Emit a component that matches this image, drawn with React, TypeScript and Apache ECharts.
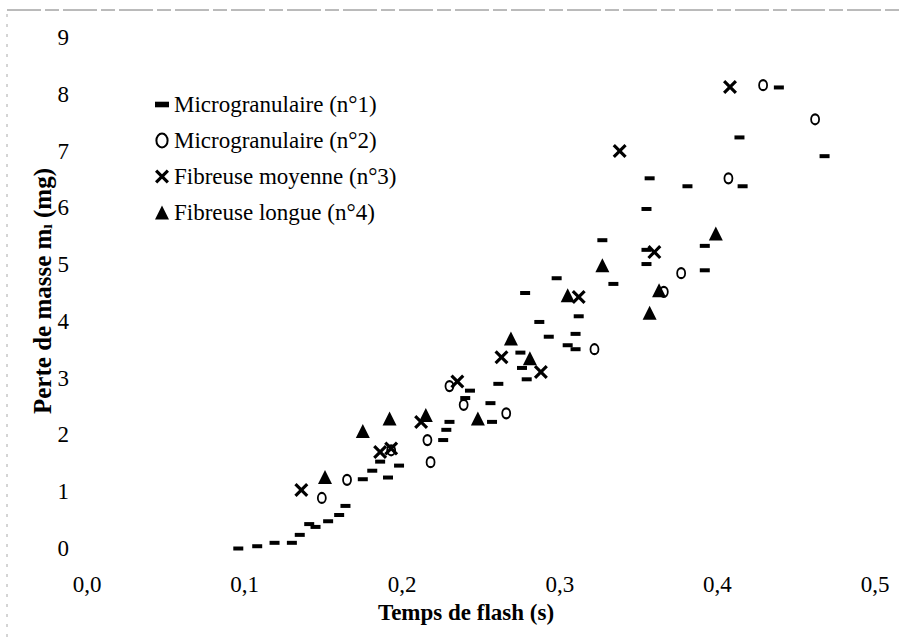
import React, { useEffect, useRef } from "react";
import * as echarts from "echarts";

const seriesNames = [
  "Microgranulaire (n°1)",
  "Microgranulaire (n°2)",
  "Fibreuse moyenne (n°3)",
  "Fibreuse longue (n°4)",
];

const micro1: [number, number][] = [
  [0.096, 0.0], [0.108, 0.04], [0.119, 0.1], [0.13, 0.1], [0.135, 0.24],
  [0.141, 0.43], [0.145, 0.38], [0.153, 0.48], [0.16, 0.59], [0.164, 0.75],
  [0.175, 1.22], [0.181, 1.37], [0.186, 1.53], [0.191, 1.25], [0.198, 1.46],
  [0.226, 1.91], [0.228, 2.09], [0.23, 2.23], [0.24, 2.65], [0.243, 2.78],
  [0.256, 2.56], [0.257, 2.23], [0.261, 2.9], [0.275, 3.45], [0.276, 3.18],
  [0.279, 2.98], [0.278, 4.5], [0.287, 3.99], [0.293, 3.73], [0.298, 4.76],
  [0.305, 3.58], [0.31, 3.78], [0.31, 3.51], [0.312, 4.09], [0.327, 5.43],
  [0.334, 4.66], [0.355, 5.98], [0.355, 5.26], [0.355, 5.01], [0.357, 6.52],
  [0.381, 6.38], [0.392, 5.33], [0.392, 4.9], [0.414, 7.24], [0.416, 6.38],
  [0.439, 8.12], [0.468, 6.91],
];

const micro2: [number, number][] = [
  [0.149, 0.89], [0.165, 1.21], [0.193, 1.73], [0.218, 1.52], [0.216, 1.91],
  [0.23, 2.86], [0.239, 2.53], [0.266, 2.38], [0.322, 3.51], [0.377, 4.85],
  [0.366, 4.52], [0.407, 6.52], [0.429, 8.16], [0.462, 7.56],
];

const fibMoy: [number, number][] = [
  [0.136, 1.03], [0.186, 1.7], [0.193, 1.76], [0.212, 2.23], [0.235, 2.94],
  [0.263, 3.37], [0.288, 3.11], [0.312, 4.43], [0.338, 7.0], [0.36, 5.22],
  [0.408, 8.13],
];

const fibLong: [number, number][] = [
  [0.151, 1.26], [0.175, 2.07], [0.192, 2.29], [0.215, 2.35], [0.248, 2.29],
  [0.269, 3.7], [0.281, 3.35], [0.305, 4.46], [0.327, 4.99], [0.357, 4.15],
  [0.363, 4.55], [0.399, 5.55],
];

const xTickLabels = ["0,0", "0,1", "0,2", "0,3", "0,4", "0,5"];
const yTickLabels = ["0", "1", "2", "3", "4", "5", "6", "7", "8", "9"];

const xTitle = "Temps de flash (s)";
const yTitleMain = "Perte de masse m";
const yTitleSub = "ı";
const yTitleUnit = " (mg)";

const DASH = "path://M0,0H10V4H0Z";
const OVAL = "path://M4,0A4,5 0 1,1 4,10A4,5 0 1,1 4,0Z";
const CROSS =
  "path://M0,1.6L1.6,0L5,3.4L8.4,0L10,1.6L6.6,5L10,8.4L8.4,10L5,6.6L1.6,10L0,8.4L3.4,5Z";

const FONT = "Liberation Serif";

export default function App() {
  const ref = useRef<HTMLDivElement>(null);

  useEffect(() => {
    if (!ref.current) return;
    const chart = echarts.init(ref.current, undefined, { renderer: "svg" });
    const black = "#000";
    chart.setOption({
      animation: false,
      backgroundColor: "#fff",
      textStyle: { fontFamily: FONT },
      grid: {
        left: 87,
        right: 25,
        top: 37.5,
        bottom: 92.5,
        containLabel: false,
        outerBoundsMode: "none",
      },
      legend: {
        orient: "vertical",
        left: 150,
        top: 88,
        itemWidth: 14,
        itemHeight: 14,
        itemGap: 13,
        textStyle: { fontFamily: FONT, fontSize: 23, color: black },
        data: [
          { name: seriesNames[0], icon: DASH },
          { name: seriesNames[1], icon: OVAL },
          { name: seriesNames[2], icon: CROSS },
          { name: seriesNames[3], icon: "triangle" },
        ],
      },
      xAxis: {
        type: "value",
        min: 0,
        max: 0.5,
        interval: 0.1,
        axisLine: { show: false },
        axisTick: { show: false },
        splitLine: { show: false },
        axisLabel: {
          margin: 24,
          fontFamily: FONT,
          fontSize: 23,
          color: black,
          formatter: (v: number) => xTickLabels[Math.round(v * 10)],
        },
      },
      yAxis: {
        type: "value",
        min: 0,
        max: 9,
        interval: 1,
        axisLine: { show: false },
        axisTick: { show: false },
        splitLine: { show: false },
        axisLabel: {
          margin: 18,
          fontFamily: FONT,
          fontSize: 23,
          color: black,
          formatter: (v: number) => yTickLabels[Math.round(v)],
        },
      },
      series: [
        {
          name: seriesNames[0],
          type: "scatter",
          clip: false,
          symbol: DASH,
          symbolSize: [10, 4],
          itemStyle: { color: black, opacity: 1 },
          data: micro1,
        },
        {
          name: seriesNames[1],
          type: "scatter",
          clip: false,
          symbol: OVAL,
          symbolSize: [8, 10],
          itemStyle: {
            color: "rgba(0,0,0,0)",
            borderColor: black,
            borderWidth: 2,
            opacity: 1,
          },
          data: micro2,
        },
        {
          name: seriesNames[2],
          type: "scatter",
          clip: false,
          symbol: CROSS,
          symbolSize: 14,
          itemStyle: { color: black, opacity: 1 },
          data: fibMoy,
        },
        {
          name: seriesNames[3],
          type: "scatter",
          clip: false,
          symbol: "triangle",
          symbolSize: 14,
          itemStyle: { color: black, opacity: 1 },
          data: fibLong,
        },
      ],
      graphic: [
        {
          type: "line",
          silent: true,
          shape: { x1: 7, y1: 10, x2: 900, y2: 10 },
          style: { stroke: "#777", lineWidth: 1, lineDash: [34, 4, 14, 4] },
        },
        {
          type: "line",
          silent: true,
          shape: { x1: 7, y1: 14, x2: 7, y2: 641 },
          style: { stroke: "#aaa", lineWidth: 1, lineDash: [3, 7] },
        },
        {
          type: "text",
          x: 466,
          y: 612,
          style: {
            text: xTitle,
            fontFamily: FONT,
            fontSize: 23,
            fontWeight: "bold",
            fill: black,
            align: "center",
            verticalAlign: "middle",
          },
        },
        {
          type: "text",
          x: 42,
          y: 291,
          rotation: Math.PI / 2,
          style: {
            text: `{a|${yTitleMain}}{b|${yTitleSub}}{a|${yTitleUnit}}`,
            fill: black,
            align: "center",
            verticalAlign: "middle",
            rich: {
              a: { fontFamily: FONT, fontSize: 25, fontWeight: "bold", fill: black },
              b: {
                fontFamily: FONT,
                fontSize: 16,
                fontWeight: "bold",
                fill: black,
                verticalAlign: "bottom",
              },
            },
          },
        },
      ],
    });
    return () => chart.dispose();
  }, []);

  return (
    <div
      ref={ref}
      style={{ position: "fixed", left: 0, top: 0, width: 900, height: 641 }}
    />
  );
}
